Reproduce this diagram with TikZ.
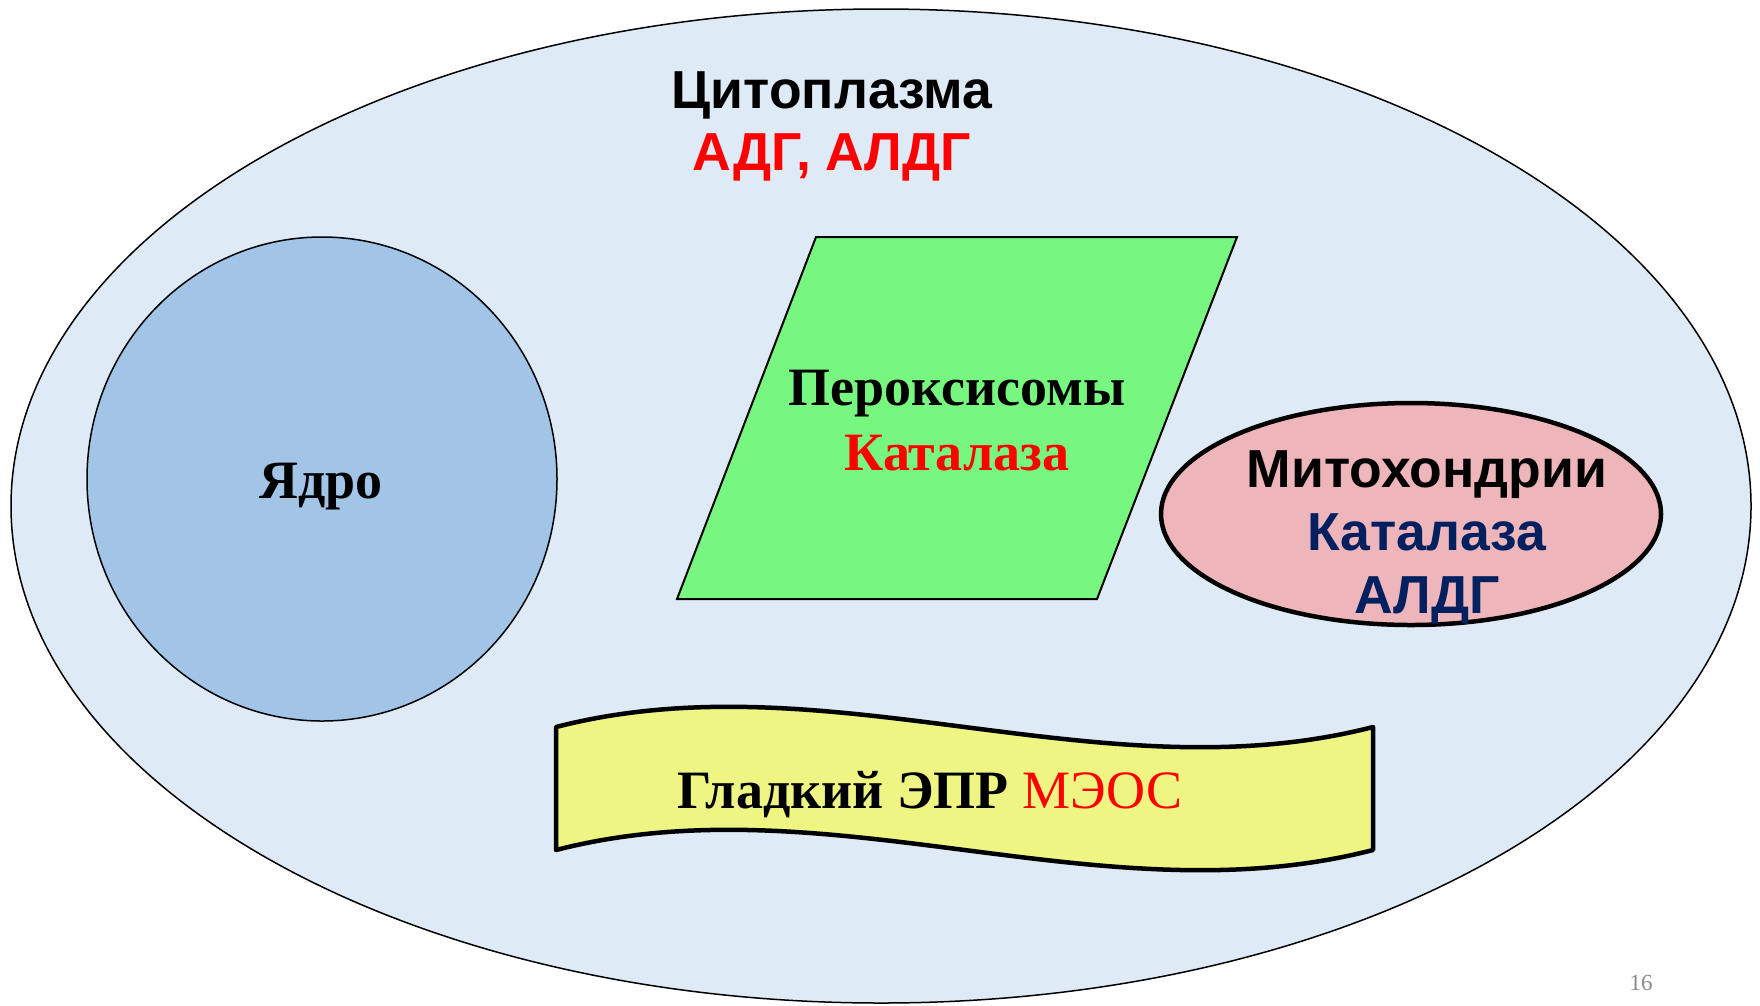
\documentclass[tikz,border=0pt]{standalone}
\usepackage{fontspec}
\setmainfont{Liberation Serif}
\newfontfamily\sansb{Liberation Sans}
\definecolor{cytofill}{HTML}{DEEBF6}
\definecolor{nucfill}{HTML}{A2C4E7}
\definecolor{perfill}{HTML}{77F780}
\definecolor{mitofill}{HTML}{EEB5BA}
\definecolor{erfill}{HTML}{EEF583}
\definecolor{navy}{HTML}{002060}
\definecolor{pagegray}{HTML}{8A8A8A}
\tikzset{
  sanslabel/.style={anchor=base, inner sep=0pt, font=\sansb\bfseries\fontsize{53.5}{62}\selectfont},
  seriflabel/.style={anchor=base, inner sep=0pt, font=\bfseries\fontsize{54}{62}\selectfont},
  thinline/.style={draw=black, line width=1.5pt},
  thickline/.style={draw=black, line width=4.5pt, line join=round}
}
\begin{document}
\begin{tikzpicture}[x=1pt,y=-1pt]
\useasboundingbox (0,0) rectangle (1760,1005);
\fill[white] (0,0) rectangle (1760,1005);
% cytoplasm
\draw[thinline, fill=cytofill] (881,506) ellipse [x radius=870, y radius=497];
% nucleus
\draw[thinline, fill=nucfill] (322,479) ellipse [x radius=235, y radius=242];
% peroxisome parallelogram
\draw[thinline, line width=2pt, fill=perfill] (816,237) -- (1237,237) -- (1097,599) -- (677,599) -- cycle;
% mitochondria
\draw[thickline, fill=mitofill] (1411,514) ellipse [x radius=250, y radius=111];
% smooth ER wave banner
\draw[thickline, fill=erfill] (556,727) .. controls (828,657) and (1101,797) .. (1373,727)
  -- (1373,850) .. controls (1101,920) and (828,780) .. (556,850) -- cycle;
% texts
\node[sanslabel] (cyto) at (832,108) {Цитоплазма};
\node[sanslabel, text=red] (cytoenz) at (832,170) {АДГ, АЛДГ};
\node[seriflabel] (nuc) at (321,498) {Ядро};
\node[seriflabel] (per) at (957,405) {Пероксисомы};
\node[seriflabel, text=red] (perenz) at (957,470) {Каталаза};
\node[sanslabel] (mito) at (1427,487) {Митохондрии};
\node[sanslabel, text=navy] (mitoenz1) at (1427,550) {Каталаза};
\node[sanslabel, text=navy] (mitoenz2) at (1427,613) {АЛДГ};
\node[seriflabel] (er) at (930,808) {Гладкий ЭПР {\color{red}\mdseries МЭОС}};
\node[anchor=base, inner sep=0pt, text=pagegray, font=\fontsize{23}{27}\selectfont] (page) at (1641,990) {16};
\end{tikzpicture}
\end{document}
